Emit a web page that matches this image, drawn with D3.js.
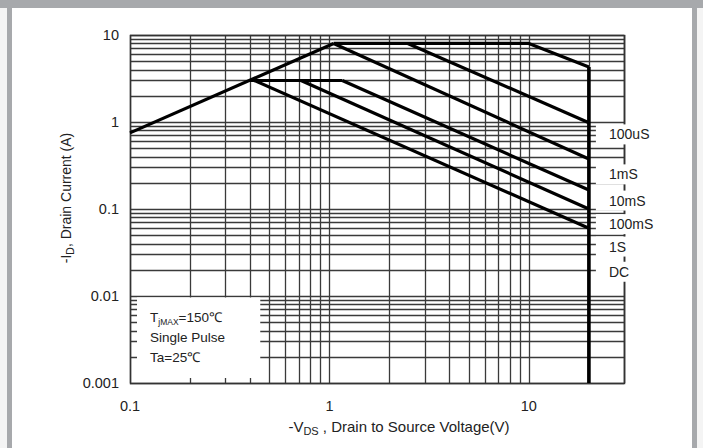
<!DOCTYPE html>
<html>
<head>
<meta charset="utf-8">
<script src="https://cdn.jsdelivr.net/npm/d3@7"></script>
<style>
  body { margin: 0; background: #fff; }
  text { font-family: "Liberation Sans", Arial, sans-serif; fill: #222; }
</style>
</head>
<body>
<div id="chart"></div>
<script>
// axis ticks
var xTicks = [0.1, 1, 10];
var yTicks = [0.001, 0.01, 0.1, 1, 10];
var yTickText = ["0.001", "0.01", "0.1", "1", "10"];

// SOA curves, [Vds, Id]
var rdsLimit   = [[0.1, 0.75], [1.05, 8]];
var curve100us = [[1.05, 8], [10, 8], [20, 4.3]];
var curve1ms   = [[2.47, 8], [20, 0.98]];
var curve10ms  = [[1.05, 8], [20, 0.375]];
var flat3A     = [[0.4, 3], [1.16, 3]];
var curve100ms = [[1.16, 3], [20, 0.165]];
var curve1s    = [[0.72, 3], [20, 0.1]];
var curveDC    = [[0.42, 3], [20, 0.06]];
var vdsMax     = [[20, 4.3], [20, 0.001]];

// right hand labels and the current level they sit at
var pulseNames = ["100uS", "1mS", "10mS", "100mS", "1S", "DC"];
var pulseLabelAt = [0.72, 0.25, 0.125, 0.067, 0.037, 0.019];

var W = 703, H = 448;
var pLeft = 130, pRight = 624, pTop = 35, pBottom = 383;

var svg = d3.select("#chart").append("svg")
  .attr("width", W).attr("height", H);

// frame
svg.append("rect").attr("x", 0).attr("y", 0).attr("width", W).attr("height", H).attr("fill", "#f4f4f4");
svg.append("rect").attr("x", 12).attr("y", 8).attr("width", 680).attr("height", H - 8).attr("fill", "#fff");
svg.append("rect").attr("x", 0).attr("y", 0).attr("width", W).attr("height", 8).attr("fill", "#a7a9ac");
svg.append("rect").attr("x", 7).attr("y", 8).attr("width", 5).attr("height", H - 8).attr("fill", "#a7a9ac");
svg.append("rect").attr("x", 692).attr("y", 8).attr("width", 5).attr("height", H - 8).attr("fill", "#a7a9ac");

var x = d3.scaleLog().domain([0.1, 30]).range([pLeft, pRight]);
var y = d3.scaleLog().domain([0.001, 10]).range([pBottom, pTop]);

// grid values
var xGrid = [];
[0.1, 1, 10].forEach(function(d) {
  for (var k = 1; k <= 9; k++) {
    var v = +(d * k).toPrecision(3);
    if (v <= 30) xGrid.push(v);
  }
});
xGrid.push(30);
var yGrid = [];
[0.001, 0.01, 0.1, 1].forEach(function(d) {
  for (var k = 1; k <= 9; k++) yGrid.push(+(d * k).toPrecision(3));
});
yGrid.push(10);

var grid = svg.append("g");
grid.selectAll("line.v").data(xGrid).enter().append("line")
  .attr("class", "v")
  .attr("x1", function(d) { return Math.round(x(d)) + 0.5; })
  .attr("x2", function(d) { return Math.round(x(d)) + 0.5; })
  .attr("y1", pTop).attr("y2", pBottom)
  .attr("stroke", "#3a3a3a").attr("stroke-width", 1.3);
grid.selectAll("line.h").data(yGrid).enter().append("line")
  .attr("class", "h")
  .attr("y1", function(d) { return Math.round(y(d)) + 0.5; })
  .attr("y2", function(d) { return Math.round(y(d)) + 0.5; })
  .attr("x1", pLeft).attr("x2", pRight)
  .attr("stroke", "#3a3a3a").attr("stroke-width", 1.3);

// plot border
svg.append("rect")
  .attr("x", pLeft + 0.5).attr("y", pTop + 0.5)
  .attr("width", pRight - pLeft).attr("height", pBottom - pTop)
  .attr("fill", "none").attr("stroke", "#333").attr("stroke-width", 1.5);

// legend box covers the lower left grid
var boxLeft = x(0.1) + 7, boxRight = x(0.45), boxTop = y(0.01) + 1.5, boxBottom = y(0.001) - 5;
svg.append("rect")
  .attr("x", boxLeft).attr("y", boxTop)
  .attr("width", boxRight - boxLeft).attr("height", boxBottom - boxTop)
  .attr("fill", "#fff");

var lg = svg.append("g").attr("font-size", 13.5);
var t1 = lg.append("text").attr("x", 150).attr("y", 322);
t1.append("tspan").text("T");
t1.append("tspan").attr("font-size", 8.5).attr("dy", 3).text("jMAX");
t1.append("tspan").attr("dy", -3).text("=150\u2103");
lg.append("text").attr("x", 150).attr("y", 342).text("Single Pulse");
lg.append("text").attr("x", 150).attr("y", 362).text("Ta=25\u2103");

// right labels with white boxes over the grid
var lab = svg.append("g");
lab.selectAll("rect").data(pulseLabelAt).enter().append("rect")
  .attr("x", x(20) + 7)
  .attr("y", function(d) { return y(d) - 10; })
  .attr("width", 70).attr("height", 20)
  .attr("fill", "#fff");
lab.selectAll("text").data(pulseNames).enter().append("text")
  .attr("x", 609)
  .attr("y", function(d, i) { return y(pulseLabelAt[i]) + 5; })
  .attr("font-size", 14)
  .text(function(d) { return d; });

// curves
var line = d3.line()
  .x(function(d) { return x(d[0]); })
  .y(function(d) { return y(d[1]); });
var curves = [rdsLimit, curve100us, curve1ms, curve10ms, flat3A, curve100ms, curve1s, curveDC];
svg.append("g").selectAll("path").data(curves).enter().append("path")
  .attr("d", line)
  .attr("fill", "none").attr("stroke", "#000").attr("stroke-width", 3.2)
  .attr("stroke-linejoin", "round");
svg.append("path").attr("d", line(vdsMax))
  .attr("fill", "none").attr("stroke", "#000").attr("stroke-width", 3.6);

// tick labels
svg.append("g").selectAll("text").data(xTicks).enter().append("text")
  .attr("x", function(d) { return x(d); })
  .attr("y", pBottom + 28)
  .attr("text-anchor", "middle").attr("font-size", 14.5)
  .text(function(d) { return d; });
svg.append("g").selectAll("text").data(yTicks).enter().append("text")
  .attr("x", pLeft - 11)
  .attr("y", function(d) { return y(d) + 5; })
  .attr("text-anchor", "end").attr("font-size", 14.5)
  .text(function(d, i) { return yTickText[i]; });

// axis titles
var xt = svg.append("text")
  .attr("x", (x(0.1) + x(30)) / 2 + 22).attr("y", 432)
  .attr("text-anchor", "middle").attr("font-size", 15);
xt.append("tspan").text("-V");
xt.append("tspan").attr("font-size", 11).attr("dy", 3).text("DS");
xt.append("tspan").attr("dy", -3).text(" , Drain to Source Voltage(V)");

var yt = svg.append("text")
  .attr("transform", "translate(71,198) rotate(-90)")
  .attr("text-anchor", "middle").attr("font-size", 14);
yt.append("tspan").text("-I");
yt.append("tspan").attr("font-size", 10.5).attr("dy", 3).text("D");
yt.append("tspan").attr("dy", -3).text(", Drain Current (A)");
</script>
</body>
</html>
